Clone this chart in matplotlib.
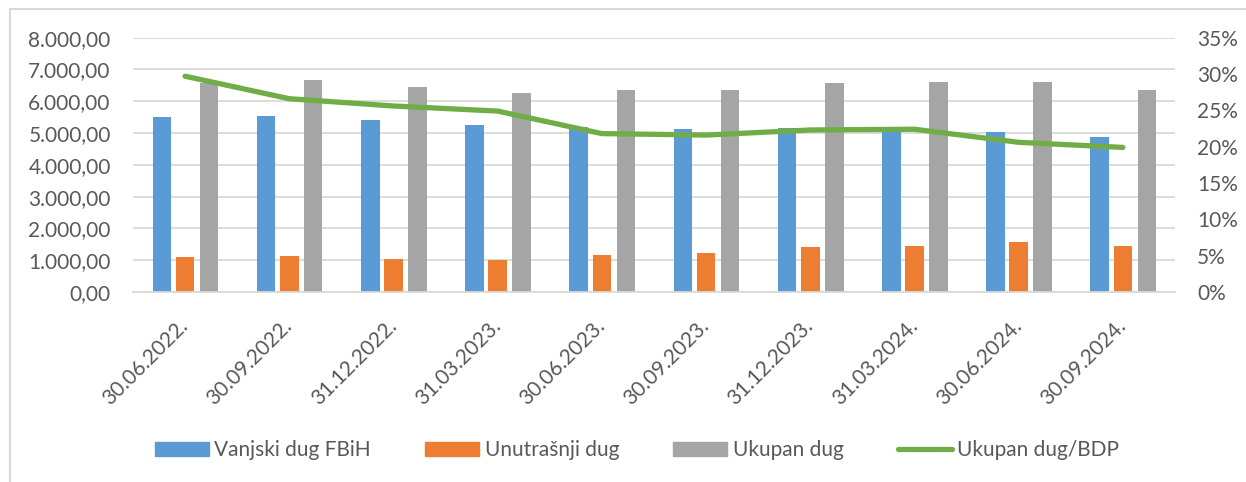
import numpy as np
import matplotlib.pyplot as plt
from matplotlib.ticker import FuncFormatter, MultipleLocator
from matplotlib.patches import Rectangle
from matplotlib.lines import Line2D

plt.rcParams['font.family'] = ['Lato', 'DejaVu Sans']

dates = ['30.06.2022.', '30.09.2022.', '31.12.2022.', '31.03.2023.', '30.06.2023.',
         '30.09.2023.', '31.12.2023.', '31.03.2024.', '30.06.2024.', '30.09.2024.']
vanjski = [5500, 5530, 5400, 5250, 5200, 5130, 5170, 5160, 5030, 4880]
unutrasnji = [1090, 1130, 1040, 1000, 1160, 1220, 1400, 1440, 1570, 1440]
ukupan = [6590, 6670, 6460, 6260, 6370, 6350, 6570, 6600, 6620, 6340]
dug_bdp = [29.7, 26.6, 25.6, 24.9, 21.8, 21.6, 22.3, 22.4, 20.6, 19.9]

TXT = '#595959'
GRID = '#d9d9d9'
C_BLUE = '#5B9BD5'
C_ORANGE = '#ED7D31'
C_GRAY = '#A5A5A5'
C_GREEN = '#70AD47'
FS = 15

fig = plt.figure(figsize=(12.46, 4.82), dpi=100)
ax = fig.add_axes([0.1067, 0.3942, 0.8363, 0.5276])
ax2 = ax.twinx()

x = np.arange(len(dates))
w = 0.178
ax.bar(x - 0.222, vanjski, w, color=C_BLUE, zorder=2)
ax.bar(x, unutrasnji, w, color=C_ORANGE, zorder=2)
ax.bar(x + 0.23, ukupan, w, color=C_GRAY, zorder=2)

ax2.plot(x, np.array(dug_bdp) / 100, color=C_GREEN, lw=3.8, solid_capstyle='round',
         solid_joinstyle='round', zorder=3)

ax.set_xlim(-0.5, len(dates) - 0.5)
ax.set_ylim(0, 8000)
ax2.set_ylim(0, 0.35)
ax.yaxis.set_major_locator(MultipleLocator(1000))
ax2.yaxis.set_major_locator(MultipleLocator(0.05))


def fmt_num(v, pos):
    s = f'{v:,.2f}'
    return s.replace(',', 'X').replace('.', ',').replace('X', '.')


ax.yaxis.set_major_formatter(FuncFormatter(fmt_num))
ax2.yaxis.set_major_formatter(FuncFormatter(lambda v, p: f'{v * 100:.0f}%'))

ax.grid(axis='y', color=GRID, lw=1.3, zorder=0)
ax.set_axisbelow(True)
for a in (ax, ax2):
    for s in a.spines.values():
        s.set_visible(False)
ax.spines['bottom'].set_visible(True)
ax.spines['bottom'].set_color(GRID)
ax.spines['bottom'].set_linewidth(1.3)

ax.tick_params(axis='y', length=0, pad=16, labelsize=FS, labelcolor=TXT)
ax2.tick_params(axis='y', length=0, pad=16, labelsize=FS, labelcolor=TXT)
ax.set_xticks(x)
ax.set_xticklabels(dates, rotation=45, ha='right', va='center', rotation_mode='anchor')
ax.tick_params(axis='x', length=0, pad=22, labelsize=FS, labelcolor=TXT)

handles = [
    Rectangle((0, 0), 1, 1, color=C_BLUE),
    Rectangle((0, 0), 1, 1, color=C_ORANGE),
    Rectangle((0, 0), 1, 1, color=C_GRAY),
    Line2D([0], [0], color=C_GREEN, lw=3.8, solid_capstyle='round'),
]
labels = ['Vanjski dug FBiH', 'Unutrašnji dug', 'Ukupan dug', 'Ukupan dug/BDP']
leg = fig.legend(handles, labels, loc='center', bbox_to_anchor=(637 / 1246, 1 - 450 / 482),
                 ncol=4, frameon=False, fontsize=FS, handlelength=2.6, handleheight=0.65,
                 handletextpad=0.25, columnspacing=2.6, labelcolor=TXT)

# light frame around the chart area
fig.patches.append(Rectangle((9.5 / 1246, -0.1), 1.2, 1.1 - 9 / 482, transform=fig.transFigure,
                             fill=False, edgecolor=GRID, lw=1.5))

fig.savefig('out.png', dpi=100)
